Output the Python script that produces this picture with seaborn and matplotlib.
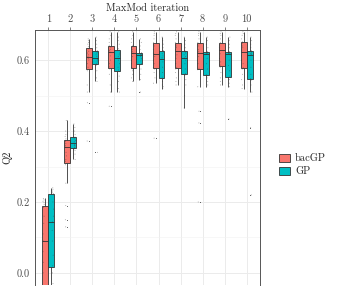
import numpy as np
import pandas as pd
import matplotlib
matplotlib.use("Agg")
import matplotlib.pyplot as plt
import seaborn as sns

iterations = [1, 2, 3, 4, 5, 6, 7, 8, 9, 10]
methods = ["bacGP", "GP"]
colors = ["#F8766D", "#00BFC4"]
yticks = [0.0, 0.2, 0.4, 0.6]

# Q2 values, per iteration
bacgp = {
    1: [-0.35, -0.28, -0.2, -0.12, -0.07, -0.05, 0.0, 0.03, 0.06, 0.09, 0.11, 0.14, 0.16, 0.185, 0.193, 0.198, 0.202, 0.206, 0.21],
    2: [0.13, 0.15, 0.19, 0.253, 0.305, 0.315, 0.32, 0.33, 0.34, 0.355, 0.36, 0.365, 0.37, 0.373, 0.378, 0.385, 0.39, 0.40, 0.43],
    3: [0.372, 0.48, 0.51, 0.53, 0.57, 0.58, 0.59, 0.60, 0.605, 0.61, 0.615, 0.62, 0.625, 0.632, 0.638, 0.645, 0.65, 0.655, 0.66],
    4: [0.47, 0.51, 0.53, 0.56, 0.575, 0.581, 0.59, 0.60, 0.612, 0.623, 0.627, 0.63, 0.635, 0.638, 0.642, 0.65, 0.66, 0.67, 0.68],
    5: [0.54, 0.55, 0.56, 0.57, 0.575, 0.579, 0.59, 0.60, 0.61, 0.62, 0.625, 0.63, 0.635, 0.638, 0.642, 0.65, 0.66, 0.67, 0.68],
    6: [0.38, 0.535, 0.55, 0.565, 0.575, 0.579, 0.59, 0.60, 0.61, 0.617, 0.62, 0.63, 0.64, 0.646, 0.65, 0.66, 0.67, 0.675, 0.68],
    7: [0.53, 0.54, 0.55, 0.565, 0.575, 0.579, 0.59, 0.605, 0.615, 0.625, 0.63, 0.635, 0.64, 0.646, 0.65, 0.66, 0.67, 0.675, 0.68],
    8: [0.20, 0.423, 0.456, 0.525, 0.573, 0.577, 0.59, 0.60, 0.61, 0.62, 0.625, 0.63, 0.64, 0.646, 0.65, 0.66, 0.67, 0.675, 0.68],
    9: [0.53, 0.54, 0.55, 0.565, 0.58, 0.586, 0.595, 0.605, 0.618, 0.628, 0.632, 0.636, 0.64, 0.646, 0.65, 0.66, 0.67, 0.675, 0.68],
    10: [0.52, 0.53, 0.545, 0.56, 0.575, 0.579, 0.59, 0.60, 0.612, 0.623, 0.628, 0.635, 0.64, 0.648, 0.652, 0.66, 0.67, 0.675, 0.68],
}
gp = {
    1: [-0.15, -0.08, -0.03, 0.0, 0.015, 0.02, 0.05, 0.09, 0.12, 0.144, 0.16, 0.18, 0.2, 0.22, 0.224, 0.228, 0.232, 0.236, 0.24],
    2: [0.32, 0.335, 0.345, 0.35, 0.352, 0.354, 0.358, 0.36, 0.363, 0.366, 0.37, 0.374, 0.378, 0.381, 0.383, 0.39, 0.40, 0.41, 0.42],
    3: [0.34, 0.54, 0.55, 0.57, 0.586, 0.59, 0.595, 0.60, 0.603, 0.605, 0.61, 0.615, 0.62, 0.623, 0.627, 0.635, 0.645, 0.655, 0.665],
    4: [0.51, 0.52, 0.54, 0.555, 0.568, 0.572, 0.58, 0.59, 0.60, 0.605, 0.61, 0.615, 0.62, 0.628, 0.632, 0.645, 0.655, 0.665, 0.68],
    5: [0.51, 0.545, 0.56, 0.575, 0.587, 0.591, 0.598, 0.604, 0.61, 0.614, 0.615, 0.616, 0.618, 0.619, 0.621, 0.63, 0.64, 0.65, 0.66],
    6: [0.52, 0.525, 0.53, 0.54, 0.548, 0.552, 0.565, 0.58, 0.595, 0.603, 0.607, 0.612, 0.618, 0.623, 0.627, 0.635, 0.645, 0.655, 0.665],
    7: [0.465, 0.50, 0.53, 0.545, 0.558, 0.562, 0.575, 0.59, 0.60, 0.606, 0.61, 0.615, 0.62, 0.623, 0.627, 0.635, 0.645, 0.655, 0.665],
    8: [0.525, 0.53, 0.54, 0.55, 0.556, 0.56, 0.575, 0.59, 0.605, 0.617, 0.618, 0.619, 0.62, 0.622, 0.624, 0.635, 0.645, 0.655, 0.665],
    9: [0.434, 0.525, 0.535, 0.545, 0.551, 0.555, 0.57, 0.585, 0.60, 0.617, 0.618, 0.619, 0.62, 0.622, 0.624, 0.635, 0.645, 0.655, 0.665],
    10: [0.22, 0.41, 0.51, 0.53, 0.544, 0.548, 0.56, 0.58, 0.60, 0.614, 0.616, 0.618, 0.62, 0.623, 0.627, 0.635, 0.645, 0.655, 0.665],
}

rows = []
for it in iterations:
    for v in bacgp[it]:
        rows.append((str(it), "bacGP", v))
    for v in gp[it]:
        rows.append((str(it), "GP", v))
df = pd.DataFrame(rows, columns=["iteration", "method", "Q2"])

sns.set_style("white")
plt.rcParams["font.family"] = ["cmr10", "DejaVu Serif"]
plt.rcParams["axes.unicode_minus"] = False

fig = plt.figure(figsize=(3.63, 2.91), dpi=100)
ax = fig.add_axes([35 / 363, 6 / 291, 225 / 363, 255 / 291])

dark = "#333333"
order = [str(i) for i in iterations]
sns.boxplot(data=df, x="iteration", y="Q2", hue="method", order=order,
            hue_order=methods, palette=colors, width=0.54, gap=0, linewidth=0.6, linecolor=dark,
            fliersize=0.6, flierprops=dict(marker="o", markerfacecolor="#555555", markeredgewidth=0),
            capprops=dict(visible=False), saturation=1, ax=ax, zorder=2)
np.random.seed(3)
sns.stripplot(data=df, x="iteration", y="Q2", hue="method", order=order,
              hue_order=methods, dodge=True, jitter=0.08, size=0.7, palette=["#333333", "#333333"],
              alpha=0.45, legend=False, ax=ax, zorder=3)

ax.set_xlim(-0.6, 9.6)
ax.set_ylim(-0.034, 0.685)
ax.set_yticks(yticks)
ax.set_yticklabels([f"{t:.1f}" for t in yticks])
ax.set_yticks([0.1, 0.3, 0.5], minor=True)
ax.xaxis.tick_top()
ax.xaxis.set_label_position("top")
ax.set_xlabel("MaxMod iteration", fontsize=7.5, labelpad=3)
ax.set_ylabel("Q2", fontsize=7.5, labelpad=3)
ax.tick_params(axis="both", which="major", labelsize=7.5, colors="#4d4d4d", length=2.5, width=0.5, pad=1.5)
ax.tick_params(axis="y", which="minor", length=0)
for lab in ax.get_xticklabels() + ax.get_yticklabels():
    lab.set_color("#4d4d4d")

ax.grid(True, which="major", color="#ebebeb", linewidth=0.7, zorder=0)
ax.grid(True, which="minor", axis="y", color="#f2f2f2", linewidth=0.4, zorder=0)
ax.set_axisbelow(True)
for side in ["left", "right", "top"]:
    ax.spines[side].set_color("#555555")
    ax.spines[side].set_linewidth(0.7)
ax.spines["bottom"].set_visible(False)

handles, labels = ax.get_legend_handles_labels()
ax.legend(handles[:2], labels[:2], loc="center left", bbox_to_anchor=(270 / 363, 1 - 165 / 291),
          bbox_transform=fig.transFigure, frameon=False, fontsize=7.5, handlelength=1.0,
          handleheight=0.9, handletextpad=0.5, labelspacing=0.3)

fig.savefig("out.png", dpi=100)
